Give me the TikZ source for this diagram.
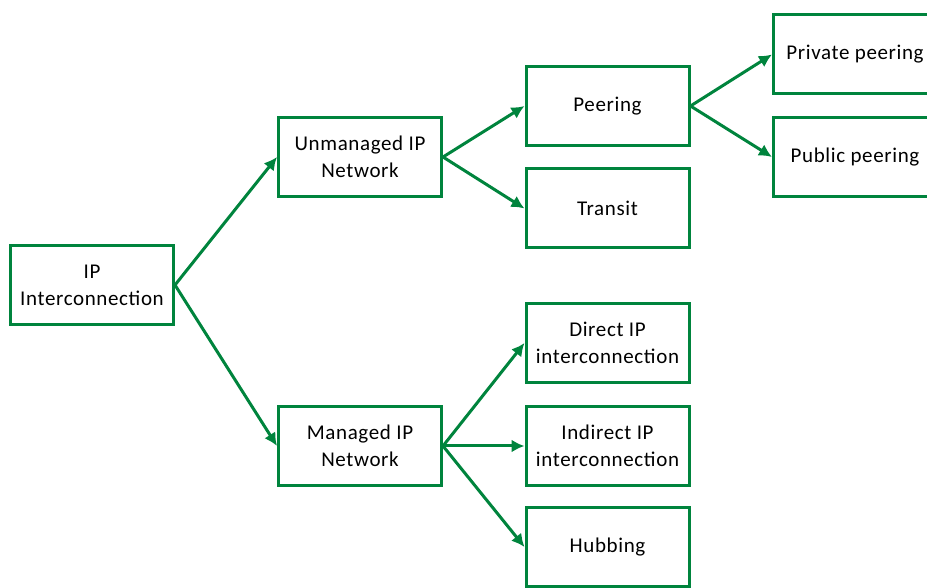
\documentclass[tikz,border=0pt]{standalone}
\usepackage{fontspec}
\setmainfont{Carlito}[LetterSpace=3]
\usepackage{tikz}
\usetikzlibrary{arrows.meta,positioning}
\definecolor{netgreen}{RGB}{0,132,61}
\tikzstyle{line} = [draw=netgreen, line width=3pt, -{Latex[length=13pt,width=13pt]}]
\tikzstyle{box} = [rectangle, draw=netgreen, line width=3pt, minimum width=163pt, minimum height=79pt, inner sep=0pt, align=center, font=\fontsize{21}{27}\selectfont]

\begin{document}
\begin{tikzpicture}[x=1pt, y=1pt]
		\useasboundingbox (0,0) rectangle (927,587);
		\clip (0,0) rectangle (927,587);
		\node [box] (ip) at (92,302) {IP\\Interconnection};
		\node [box, right of=ip, node distance=268pt, yshift=128pt] (unmanaged) {Unmanaged IP\\Network};
		\node [box, right of=ip, node distance=268pt, yshift=-161pt] (managed) {Managed IP\\Network};
		
		\node [box, right of=unmanaged, node distance=247.5pt, yshift=51pt] (peering) {Peering};
		\node [box, right of=unmanaged, node distance=247.5pt, yshift=-51.5pt] (transit) {Transit};
		\node [box, right of=managed, node distance=247.5pt, yshift=103pt] (direct) {Direct IP\\interconnection};
		\node [box, right of=managed, node distance=247.5pt] (indirect) {Indirect IP\\interconnection};
		\node [box, right of=managed, node distance=247.5pt, yshift=-101pt] (hubbing) {Hubbing};
		
		\node [box, right of=peering, node distance=247.5pt, yshift=51.5pt] (private) {Private peering};
		\node [box, right of=peering, node distance=247.5pt, yshift=-51pt] (public) {Public peering};
		
		\path [line] (ip.east) to (unmanaged.west);
		\path [line] (ip.east) to (managed.west);
		\path [line] (unmanaged.east) to (peering.west);
		\path [line] (unmanaged.east) to (transit.west);
		\path [line] (managed.east) to (direct.west);
		\path [line] (managed.east) to (indirect.west);
		\path [line] (managed.east) to (hubbing.west);
		\path [line] (peering.east) to (private.west);
		\path [line] (peering.east) to (public.west);
		
	\end{tikzpicture}
\end{document}
